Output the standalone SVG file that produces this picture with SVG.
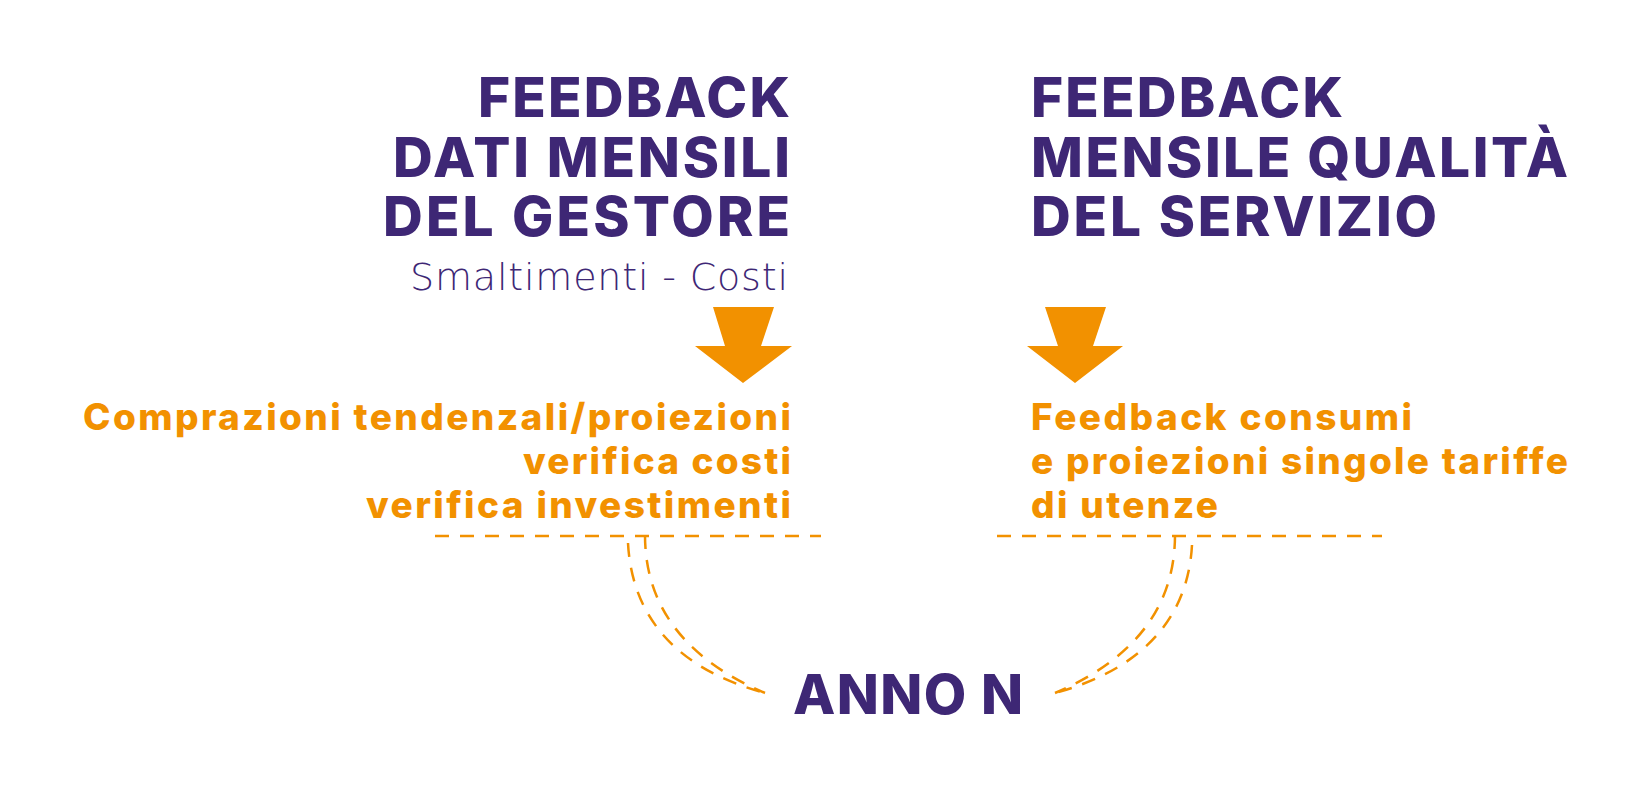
<svg xmlns="http://www.w3.org/2000/svg" width="1650" height="800" viewBox="0 0 1650 800">
<style>
.title{font-family:Inter,"DejaVu Sans",sans-serif;font-weight:800;font-size:55px;fill:#3e2775}
.sub{font-family:"DejaVu Sans","Liberation Sans",sans-serif;font-weight:200;font-size:38px;fill:#3e2775}
.body{font-family:Inter,"DejaVu Sans",sans-serif;font-weight:800;font-size:37px;fill:#f29100;font-variant-ligatures:none}
.dash{fill:none;stroke:#f29100;stroke-width:2.5;stroke-dasharray:14 11}
.arrow{fill:#f29100}
</style>
<rect width="1650" height="800" fill="#ffffff"/>
<g id="connectors">
<path class="arrow" d="M713,307 L774,307 L761,346 L792,346 L743,383 L695,346 L725,346 Z"/>
<path class="arrow" d="M1045,307 L1106,307 L1093,346 L1123,346 L1075,383 L1027,346 L1058,346 Z"/>
<path class="dash" d="M435,536 H821"/>
<path class="dash" d="M997,536 H1382"/>
<path class="dash" d="M628,543 C632,620 680,670 765,693"/>
<path class="dash" d="M645,535 C645,612 692,662 765,693"/>
<path class="dash" d="M1192,545 C1188,620 1140,670 1055,693"/>
<path class="dash" d="M1175,535 C1175,612 1128,662 1055,693"/>
</g>
<g id="node-gestore">
<text class="title" x="790" y="117" text-anchor="end" textLength="312">FEEDBACK</text>
<text class="title" x="790" y="177" text-anchor="end" textLength="397">DATI MENSILI</text>
<text class="title" x="790" y="236" text-anchor="end" textLength="407">DEL GESTORE</text>
<text class="sub" x="788" y="290" text-anchor="end" textLength="378">Smaltimenti - Costi</text>
</g>
<g id="node-qualita">
<text class="title" x="1031" y="117" textLength="312">FEEDBACK</text>
<text class="title" x="1031" y="177" textLength="537">MENSILE QUALITÀ</text>
<text class="title" x="1031" y="236" textLength="406">DEL SERVIZIO</text>
</g>
<g id="node-comparazioni">
<text class="body" x="791" y="430" text-anchor="end" textLength="708">Comprazioni tendenzali/proiezioni</text>
<text class="body" x="791" y="474" text-anchor="end" textLength="268">verifica costi</text>
<text class="body" x="791" y="518" text-anchor="end" textLength="425">verifica investimenti</text>
</g>
<g id="node-consumi">
<text class="body" x="1031" y="430" textLength="381">Feedback consumi</text>
<text class="body" x="1031" y="474" textLength="537">e proiezioni singole tariffe</text>
<text class="body" x="1031" y="518" textLength="187">di utenze</text>
</g>
<g id="node-anno">
<text class="title" x="908" y="714" text-anchor="middle" textLength="230">ANNO N</text>
</g>
</svg>
